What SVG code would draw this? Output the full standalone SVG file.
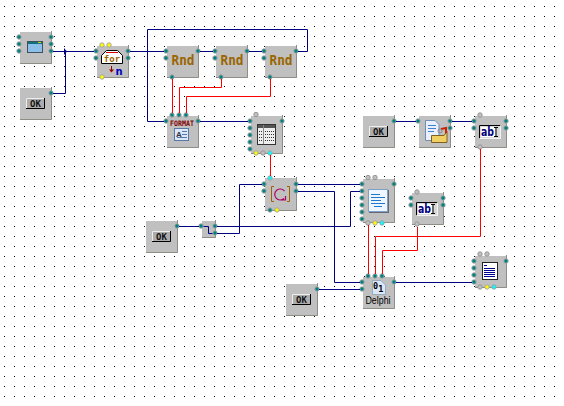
<svg xmlns="http://www.w3.org/2000/svg" width="564" height="406" viewBox="0 0 564 406">
<style>
.b{fill:#c0c0c0;stroke:none}
.s{fill:none;stroke:#8e8e86;stroke-width:1}
.w{fill:none;stroke:#000080;stroke-width:1}
.r{fill:none;stroke:#f00;stroke-width:1}
.t{fill:#008080;stroke:#a4a4a4;stroke-width:1}
.y{fill:#ff0;stroke:#a4a4a4;stroke-width:1}
.c{fill:#0ff;stroke:#a4a4a4;stroke-width:1}
.g{fill:#c0c0c0;stroke:#969696;stroke-width:1}
.rnd{font:bold 14px "DejaVu Sans Mono","Liberation Mono",monospace;fill:#996600;text-anchor:middle}
.ok{font:bold 9px "DejaVu Sans Mono","Liberation Mono",monospace;fill:#111;text-anchor:middle}
.ab{font:bold 12px "DejaVu Sans","Liberation Sans",sans-serif;fill:#000080}
</style>
<defs>
<pattern id="grid" x="0" y="0" width="10" height="10" patternUnits="userSpaceOnUse"><rect x="4" y="6" width="1" height="1" fill="#000"/></pattern>
<g id="okb"><rect x="0" y="0" width="19" height="11" fill="#adadad"/><path d="M0.500 10.500V0.500H18.500" fill="none" stroke="#eee"/><path d="M0 10.500H18.500V0" fill="none" stroke="#000"/></g>
<g id="edit"><rect x="0" y="0" width="22" height="14" fill="#d8d8d8"/><path d="M0.500 13.500V0.500H21.500" fill="none" stroke="#000"/><path d="M0.500 13.500H21.500V0.500" fill="none" stroke="#f4f4f4"/><rect x="2" y="2" width="14" height="10" fill="#fff"/><path d="M15 2.500h4M17 2.500v9M15 11.500h4" stroke="#000" fill="none"/></g>
<g id="doc"><rect x="0.500" y="0.500" width="19" height="22" fill="#eef6ff" stroke="#7f9fc5"/><rect x="1" y="23" width="20" height="1" fill="#667"/><rect x="20" y="1" width="1" height="23" fill="#667"/><path d="M3 5.500h9M3 8.500h14M3 11.500h10M3 14.500h14M6 17.500h8" stroke="#1f78d0" fill="none"/></g>
</defs>
<rect width="564" height="406" fill="#fff"/>
<rect width="564" height="406" fill="url(#grid)"/>

<g id="node-form"><rect class="b" x="20" y="32" width="32" height="32"/><path class="s" d="M51.500 31V63.500H20"/>
<rect x="27.500" y="41.500" width="15" height="11" fill="#8cc0e8" stroke="#405060"/><rect x="28" y="42" width="14" height="2" fill="#107080"/><rect x="38" y="42" width="3" height="1" fill="#dd0"/>
<circle class="t" cx="19" cy="37" r="2.200"/><circle class="t" cx="19" cy="44" r="2.200"/><circle class="t" cx="19" cy="51" r="2.200"/><circle class="t" cx="51" cy="37" r="2.200"/><circle class="t" cx="51" cy="44" r="2.200"/><circle class="t" cx="51" cy="51" r="2.200"/></g>

<g id="node-ok1"><rect class="b" x="20" y="88" width="32" height="32"/><path class="s" d="M51.500 87V119.500H20"/><use href="#okb" x="26" y="98"/><text class="ok" x="35.500" y="107">OK</text><circle class="t" cx="51" cy="93" r="2.200"/></g>

<g id="node-for"><rect class="b" x="97" y="46" width="32" height="32"/><path class="s" d="M128.500 45V77.500H97"/>
<path d="M101.500 63.500V55.500L106.500 50.500H117.500L122.500 55.500V63.500Z" fill="#fff" stroke="#000"/><path d="M106 52.500H118" stroke="#c00"/>
<text x="112" y="62" style="font:bold 9px 'DejaVu Sans Mono','Liberation Mono',monospace;fill:#996600;text-anchor:middle">for</text>
<path d="M111.500 66V71" stroke="#900"/><path d="M109 69.500H114L111.500 72.500Z" fill="#900"/>
<text x="119" y="75" style="font:bold 10px 'DejaVu Sans','Liberation Sans',sans-serif;fill:#0000c0;text-anchor:middle">n</text>
<circle class="t" cx="96" cy="51" r="2.200"/><circle class="t" cx="96" cy="58" r="2.200"/><circle class="t" cx="128" cy="51" r="2.200"/><circle class="t" cx="128" cy="58" r="2.200"/><circle class="y" cx="102" cy="45" r="2.200"/><circle class="y" cx="109" cy="45" r="2.200"/><circle class="y" cx="102" cy="77" r="2.200"/></g>

<g id="node-rnd1"><rect class="b" x="167" y="46" width="32" height="32"/><path class="s" d="M198.500 45V77.500H167"/><text class="rnd" x="183" y="65" textLength="23" lengthAdjust="spacingAndGlyphs">Rnd</text><circle class="t" cx="166" cy="51" r="2.200"/><circle class="t" cx="166" cy="58" r="2.200"/><circle class="t" cx="198" cy="51" r="2.200"/><circle class="t" cx="172" cy="77" r="2.200"/></g>
<g id="node-rnd2"><rect class="b" x="216" y="46" width="32" height="32"/><path class="s" d="M247.500 45V77.500H216"/><text class="rnd" x="232" y="65" textLength="23" lengthAdjust="spacingAndGlyphs">Rnd</text><circle class="t" cx="215" cy="51" r="2.200"/><circle class="t" cx="215" cy="58" r="2.200"/><circle class="t" cx="247" cy="51" r="2.200"/><circle class="t" cx="221" cy="77" r="2.200"/></g>
<g id="node-rnd3"><rect class="b" x="265" y="46" width="32" height="32"/><path class="s" d="M296.500 45V77.500H265"/><text class="rnd" x="281" y="65" textLength="23" lengthAdjust="spacingAndGlyphs">Rnd</text><circle class="t" cx="264" cy="51" r="2.200"/><circle class="t" cx="264" cy="58" r="2.200"/><circle class="t" cx="296" cy="51" r="2.200"/><circle class="t" cx="270" cy="77" r="2.200"/></g>

<g id="node-format"><rect class="b" x="167" y="116" width="32" height="32"/><path class="s" d="M198.500 115V147.500H167"/>
<text x="182" y="125.500" textLength="24" lengthAdjust="spacingAndGlyphs" style="font:bold 7.500px 'DejaVu Sans Mono','Liberation Mono',monospace;fill:#800000;text-anchor:middle">FORMAT</text>
<rect x="174.500" y="128.500" width="14" height="12" fill="#dce8f8" stroke="#5878a8"/><text x="176" y="137" style="font:bold 8px 'Liberation Sans',sans-serif;fill:#334">A</text><path d="M182 131.500h5M182 134.500h5M177 137.500h10" stroke="#5878a8"/>
<circle class="t" cx="166" cy="121" r="2.200"/><circle class="t" cx="198" cy="121" r="2.200"/><circle class="t" cx="172" cy="115" r="2.200"/><circle class="t" cx="179" cy="115" r="2.200"/><circle class="t" cx="186" cy="115" r="2.200"/></g>

<g id="node-table"><rect class="b" x="251" y="116" width="32" height="38"/><path class="s" d="M282.500 115V153.500H251"/>
<rect x="257.500" y="124.500" width="18" height="20" fill="#eee" stroke="#333"/><rect x="258" y="125" width="17" height="3" fill="#555"/><path d="M263.500 125V144" stroke="#888"/><path d="M259 131.500h3M259 134.500h3M259 137.500h3M259 140.500h3M265 131.500h9M265 134.500h9M265 137.500h9M265 140.500h9" stroke="#333" stroke-dasharray="1 1"/>
<circle class="g" cx="256" cy="114.500" r="2.200"/><circle class="t" cx="250" cy="121" r="2.200"/><circle class="t" cx="250" cy="128" r="2.200"/><circle class="t" cx="250" cy="135" r="2.200"/><circle class="t" cx="250" cy="142" r="2.200"/><circle class="t" cx="250" cy="149" r="2.200"/><circle class="t" cx="282" cy="121" r="2.200"/><circle class="y" cx="256" cy="153" r="2.200"/><circle class="g" cx="263" cy="153" r="2.200"/><circle class="c" cx="270" cy="153" r="2.200"/></g>

<g id="node-ok2"><rect class="b" x="363" y="116" width="32" height="32"/><path class="s" d="M394.500 115V147.500H363"/><use href="#okb" x="369" y="126"/><text class="ok" x="378.500" y="135">OK</text><circle class="t" cx="394" cy="121" r="2.200"/></g>

<g id="node-open"><rect class="b" x="419" y="116" width="32" height="32"/><path class="s" d="M450.500 115V147.500H419"/>
<path d="M425.500 120.500H435L439 124.500V140.500H425.500Z" fill="#e8f0ff" stroke="#6f8fb5"/><path d="M428 125.500h8M428 128.500h8M428 131.500h6" stroke="#4080d0"/>
<path d="M431.500 135.500H444L447 131.500V142.500H431.500Z" fill="#f0d060" stroke="#806020"/><path d="M441 129L446 128V133" fill="none" stroke="#d02000" stroke-width="2"/><circle cx="440" cy="131" r="2" fill="none" stroke="#888"/>
<circle class="t" cx="418" cy="121" r="2.200"/><circle class="t" cx="450" cy="121" r="2.200"/><circle class="t" cx="450" cy="128" r="2.200"/></g>

<g id="node-edit1"><rect class="b" x="475" y="116" width="32" height="32"/><path class="s" d="M506.500 115V147.500H475"/><use href="#edit" x="479" y="125"/><text class="ab" x="481" y="135.500" textLength="13" lengthAdjust="spacingAndGlyphs">ab</text>
<circle class="g" cx="480" cy="115" r="2.200"/><circle class="t" cx="474" cy="121" r="2.200"/><circle class="t" cx="474" cy="128" r="2.200"/><circle class="t" cx="506" cy="121" r="2.200"/><circle class="t" cx="506" cy="128" r="2.200"/><circle class="g" cx="480" cy="147" r="2.200"/></g>

<g id="node-loop"><rect class="b" x="265" y="178" width="32" height="33"/><path class="s" d="M296.500 177V210.500H265"/>
<path d="M274 186.500H271.500V201.500H274M287 186.500H289.500V201.500H287" fill="none" stroke="#a06000"/><path d="M284 198.500A5.500 5.500 0 1 1 284.500 191M285.500 196V200H281" fill="none" stroke="#b00060" stroke-width="1.200"/>
<circle class="c" cx="270" cy="178" r="2.200"/><circle class="t" cx="264" cy="184" r="2.200"/><circle class="t" cx="264" cy="191" r="2.200"/><circle class="t" cx="296" cy="184" r="2.200"/><circle class="t" cx="296" cy="191" r="2.200"/><circle class="t" cx="270" cy="210" r="2.200"/><circle class="y" cx="277" cy="210" r="2.200"/></g>

<g id="node-memo"><rect class="b" x="363" y="179" width="32" height="44"/><path class="s" d="M394.500 178V222.500H363"/><use href="#doc" x="368" y="189"/>
<circle class="g" cx="368" cy="177.500" r="2.200"/><circle class="g" cx="375" cy="177.500" r="2.200"/><circle class="t" cx="362" cy="184" r="2.200"/><circle class="t" cx="362" cy="191" r="2.200"/><circle class="t" cx="362" cy="198" r="2.200"/><circle class="t" cx="362" cy="205" r="2.200"/><circle class="t" cx="362" cy="212" r="2.200"/><circle class="t" cx="362" cy="219" r="2.200"/><circle class="t" cx="394" cy="184" r="2.200"/><circle class="g" cx="368" cy="223" r="2.200"/><circle class="y" cx="375" cy="223" r="2.200"/><circle class="c" cx="382" cy="223" r="2.200"/></g>

<g id="node-edit2"><rect class="b" x="412" y="193" width="32" height="32"/><path class="s" d="M443.500 192V224.500H412"/><use href="#edit" x="416" y="202"/><text class="ab" x="418" y="212.500" textLength="13" lengthAdjust="spacingAndGlyphs">ab</text>
<circle class="g" cx="417" cy="192" r="2.200"/><circle class="t" cx="411" cy="198" r="2.200"/><circle class="t" cx="411" cy="205" r="2.200"/><circle class="t" cx="443" cy="198" r="2.200"/><circle class="t" cx="443" cy="205" r="2.200"/><circle class="g" cx="417" cy="224" r="2.200"/></g>

<g id="node-ok3"><rect class="b" x="146" y="221" width="32" height="32"/><path class="s" d="M177.500 220V252.500H146"/><use href="#okb" x="152" y="231"/><text class="ok" x="161.500" y="240">OK</text><circle class="t" cx="177" cy="226" r="2.200"/></g>

<g id="node-split"><rect class="b" x="202" y="221" width="14" height="17"/><path class="s" d="M215.500 220V237.500H202"/><path class="w" d="M201 226.500H208.500V233.500H215"/><circle class="t" cx="201" cy="226" r="2.200"/><circle class="t" cx="215" cy="226" r="2.200"/><circle class="t" cx="215" cy="233" r="2.200"/></g>

<g id="node-memo2"><rect class="b" x="475" y="256" width="32" height="32"/><path class="s" d="M506.500 255V287.500H475"/>
<rect x="482.500" y="262.500" width="15" height="17" fill="#fff" stroke="#222"/><path d="M484 265.500h3M484 268.500h11M484 270.500h11M484 272.500h11M484 274.500h11M484 276.500h11" stroke="#000090"/>
<circle class="g" cx="480" cy="254" r="2.200"/><circle class="g" cx="487" cy="254" r="2.200"/><circle class="t" cx="474" cy="261" r="2.200"/><circle class="t" cx="474" cy="268" r="2.200"/><circle class="t" cx="474" cy="275" r="2.200"/><circle class="t" cx="474" cy="282" r="2.200"/><circle class="t" cx="506" cy="261" r="2.200"/><circle class="g" cx="480" cy="287" r="2.200"/><circle class="y" cx="487" cy="287" r="2.200"/><circle class="c" cx="494" cy="287" r="2.200"/></g>

<g id="node-delphi"><rect class="b" x="363" y="277" width="32" height="32"/><path class="s" d="M394.500 276V308.500H363"/>
<path d="M372.500 280.500H381L385.500 285V294.500H372.500Z" fill="#dbe8fa" stroke="#9ab"/>
<text x="373" y="289" style="font:bold 8.500px 'DejaVu Sans Mono','Liberation Mono',monospace;fill:#000">0<tspan dy="3">1</tspan></text>
<text x="378" y="303.500" textLength="25" lengthAdjust="spacingAndGlyphs" style="font:10px 'Liberation Sans',sans-serif;fill:#000;text-anchor:middle">Delphi</text>
<circle class="t" cx="368" cy="276" r="2.200"/><circle class="t" cx="375" cy="276" r="2.200"/><circle class="t" cx="382" cy="276" r="2.200"/><circle class="t" cx="362" cy="282" r="2.200"/><circle class="t" cx="362" cy="289" r="2.200"/><circle class="t" cx="394" cy="282" r="2.200"/></g>

<g id="node-ok4"><rect class="b" x="286" y="284" width="32" height="32"/><path class="s" d="M317.500 283V315.500H286"/><use href="#okb" x="292" y="294"/><text class="ok" x="301.500" y="303">OK</text><circle class="t" cx="317" cy="289" r="2.200"/></g>

<g id="connectors">
<path class="w" d="M53 51.500H94M53 93.500H65.500V51.500"/>
<path d="M64 48L67 51.500L64 55Z" fill="#000080"/>
<path class="w" d="M130 51.500H164M200 51.500H213M249 51.500H262"/>
<path class="w" d="M298 51.500H307.500V29.500H147.500V121.500H164"/>
<path class="w" d="M200 121.500H248"/>
<path class="w" d="M396 121.500H416M452 121.500H472"/>
<path class="w" d="M298 184.500H360M298 191.500H334.500V282.500H360"/>
<path class="w" d="M217 226.500H350.500V191.500H360"/>
<path class="w" d="M217 233.500H239.500V184.500H262"/>
<path class="w" d="M179 226.500H199"/>
<path class="w" d="M319 289.500H360"/>
<path class="w" d="M396 282.500H472"/>
<path class="r" d="M172.500 79V113"/>
<path class="r" d="M221.500 79V87.500H179.500V113"/>
<path class="r" d="M270.500 79V96.500H186.500V113"/>
<path class="r" d="M270.500 155V176"/>
<path class="r" d="M480.500 149V236.500H375.500V274"/>
<path class="r" d="M368.500 225V274"/>
<path class="r" d="M417.500 227V250.500H382.500V274"/>
</g>
</svg>
